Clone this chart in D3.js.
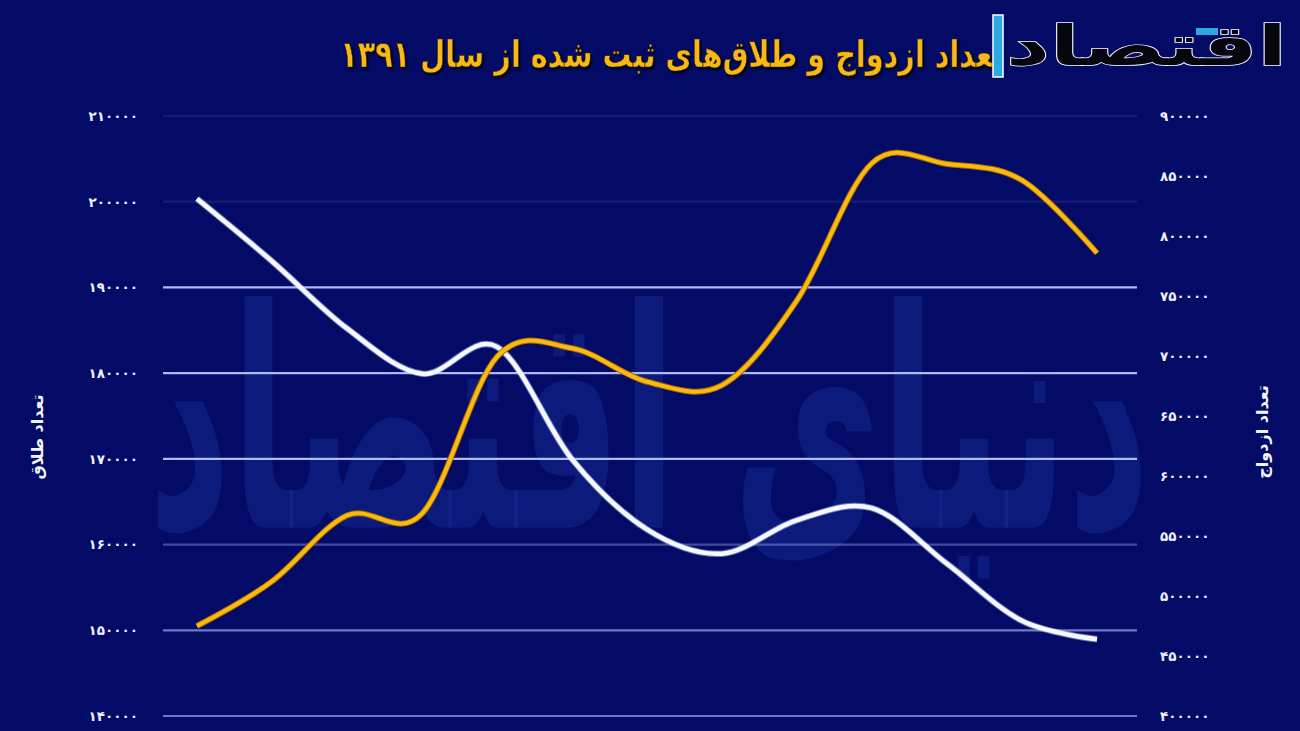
<!DOCTYPE html>
<html>
<head>
<meta charset="utf-8">
<script src="https://cdn.jsdelivr.net/npm/d3@7"></script>
<style>
  html, body { margin: 0; padding: 0; background: #030b66; }
  svg { display: block; }
  text { font-family: "DejaVu Sans", "Noto Sans", sans-serif; }
</style>
</head>
<body>
<svg id="chart" width="1300" height="731"></svg>
<script>
// ---- data ----
const years = ["۱۳۹۱","۱۳۹۲","۱۳۹۳","۱۳۹۴","۱۳۹۵","۱۳۹۶","۱۳۹۷","۱۳۹۸","۱۳۹۹","۱۴۰۰","۱۴۰۱","۱۴۰۲","۱۴۰۳"];
const divorces  = [150500, 155700, 163400, 163600, 181900, 182900, 179000, 178600, 188500, 204500, 204400, 202500, 194000];
const marriages = [831000, 779000, 723000, 685200, 707600, 614000, 555500, 535300, 563300, 573200, 526900, 479300, 464000];
const leftTicks  = [140000, 150000, 160000, 170000, 180000, 190000, 200000, 210000];
const rightTicks = [400000, 450000, 500000, 550000, 600000, 650000, 700000, 750000, 800000, 850000, 900000];
const titleText = "تعداد ازدواج و طلاق‌های ثبت شده از سال ۱۳۹۱";
const leftLabel = "تعداد طلاق";
const rightLabel = "تعداد ازدواج";
const logoText = "اقتصاد";
const watermarkText = "دنیای اقتصاد";

const fa = v => String(v).replace(/\d/g, d => "۰۱۲۳۴۵۶۷۸۹"[d]);

const svg = d3.select("#chart");
const W = 1300, H = 731;
svg.append("rect").attr("width", W).attr("height", H).attr("fill", "#030b66");

// scales
const x = d3.scalePoint().domain(years).range([197, 1097]);
const yL = d3.scaleLinear().domain([140000, 210000]).range([716, 116]);
const yR = d3.scaleLinear().domain([400000, 900000]).range([716, 116]);

// watermark
const wm = svg.append("text")
  .text(watermarkText)
  .attr("direction", "rtl")
  .attr("font-size", 300)
  .attr("font-weight", "bold")
  .attr("fill", "#1a3aa8")
  .attr("fill-opacity", 0.33)
  .attr("x", 0).attr("y", 0);
{
  const bb = wm.node().getBBox();
  const x0 = 148, x1 = 1150, y0 = 245, y1 = 600;
  const sx = (x1 - x0) / bb.width, sy = (y1 - y0) / bb.height;
  wm.attr("transform", `translate(${x0 - bb.x * sx},${y0 - bb.y * sy}) scale(${sx},${sy})`);
}

// gridlines
const gridOpacity = v => (v >= 200000 ? 0.1 : v === 160000 ? 0.35 : v <= 150000 ? 0.6 : 0.95);
svg.append("g").selectAll("line").data(leftTicks).join("line")
  .attr("x1", 163).attr("x2", 1137)
  .attr("y1", d => yL(d)).attr("y2", d => yL(d))
  .attr("stroke", "#b7c2ff")
  .attr("stroke-width", 2.2)
  .attr("stroke-opacity", gridOpacity);

// left axis
const gl = svg.append("g").attr("transform", "translate(138,0)")
  .call(d3.axisLeft(yL).tickValues(leftTicks).tickSize(0).tickPadding(0).tickFormat(fa));
gl.select(".domain").remove();
gl.selectAll("text").attr("fill", "#eef1ff").attr("font-size", 13.5).attr("font-weight", "bold")
  .attr("font-family", "DejaVu Sans");

// right axis
const gr = svg.append("g").attr("transform", "translate(1160,0)")
  .call(d3.axisRight(yR).tickValues(rightTicks).tickSize(0).tickPadding(0).tickFormat(fa));
gr.select(".domain").remove();
gr.selectAll("text").attr("fill", "#eef1ff").attr("font-size", 13.5).attr("font-weight", "bold")
  .attr("font-family", "DejaVu Sans");

// axis titles
svg.append("text").text(leftLabel)
  .attr("transform", "translate(43,437) rotate(-90)")
  .attr("text-anchor", "middle").attr("direction", "rtl")
  .attr("fill", "#f2f4ff").attr("font-size", 16).attr("font-weight", "bold");
svg.append("text").text(rightLabel)
  .attr("transform", "translate(1268,432) rotate(-90)")
  .attr("text-anchor", "middle").attr("direction", "rtl")
  .attr("fill", "#f2f4ff").attr("font-size", 16).attr("font-weight", "bold");

// lines
const curve = d3.curveCardinal.tension(0);
const lineL = d3.line().x((d, i) => x(years[i])).y(d => yL(d)).curve(curve);
const lineR = d3.line().x((d, i) => x(years[i])).y(d => yR(d)).curve(curve);

svg.append("path").datum(marriages).attr("d", lineR)
  .attr("fill", "none").attr("stroke", "#c9d3ff").attr("stroke-width", 6.5)
  .attr("stroke-linecap", "butt").attr("stroke-opacity", 0.5);
svg.append("path").datum(marriages).attr("d", lineR)
  .attr("fill", "none").attr("stroke", "#f6f8ff").attr("stroke-width", 4.5)
  .attr("stroke-linecap", "butt");

svg.append("path").datum(divorces).attr("d", lineL)
  .attr("fill", "none").attr("stroke", "#a86a00").attr("stroke-width", 6)
  .attr("stroke-linecap", "butt");
svg.append("path").datum(divorces).attr("d", lineL)
  .attr("fill", "none").attr("stroke", "#f9bb12").attr("stroke-width", 4)
  .attr("stroke-linecap", "butt");

// title
const title = svg.append("text").text(titleText)
  .attr("direction", "rtl")
  .attr("x", 0).attr("y", 0)
  .attr("font-size", 36).attr("font-weight", "bold")
  .attr("fill", "#f8b916")
  .attr("stroke", "#3a2a00").attr("stroke-width", 0.6)
  .style("filter", "drop-shadow(2px 2px 1px rgba(0,0,0,0.8))");
{
  const bb = title.node().getBBox();
  const sx = (1003 - 340) / bb.width, sy = (76 - 33) / bb.height;
  title.attr("transform", `translate(${340 - bb.x * sx},${33 - bb.y * sy}) scale(${sx},${sy})`);
}

// logo
const logo = svg.append("g");
logo.append("rect").attr("x", 993).attr("y", 15).attr("width", 10).attr("height", 62)
  .attr("fill", "#2aaae2").attr("stroke", "#ffffff").attr("stroke-width", 1.5);
const lt = logo.append("text").text(logoText)
  .attr("direction", "rtl")
  .attr("font-size", 80).attr("font-weight", "bold")
  .attr("fill", "#06060e").attr("stroke", "#ffffff").attr("stroke-width", 2)
  .attr("paint-order", "stroke");
{
  const bb = lt.node().getBBox();
  const sx = (1287 - 1006) / bb.width, sy = (78 - 14) / bb.height;
  lt.attr("transform", `translate(${1006 - bb.x * sx},${14 - bb.y * sy}) scale(${sx},${sy})`);
}
logo.append("rect").attr("x", 1196).attr("y", 28).attr("width", 22).attr("height", 7)
  .attr("fill", "#2aaae2");
</script>
</body>
</html>
